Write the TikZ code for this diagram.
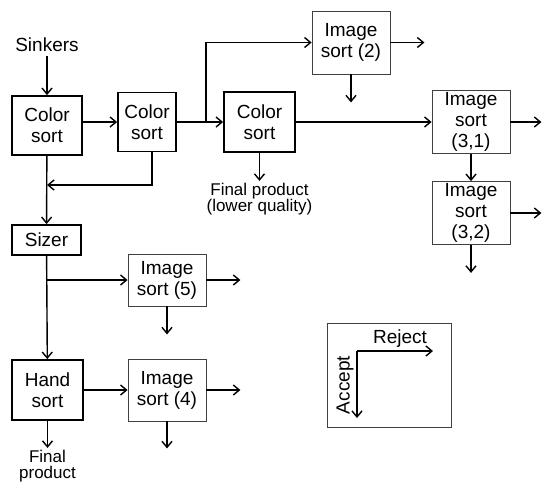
\documentclass[tikz,border=0pt]{standalone}
\usepackage{fontspec}
\setmainfont{Liberation Sans}
\usetikzlibrary{positioning,arrows.meta}
\tikzset{
  sortbox/.style={draw,line width=1.8pt,align=center,inner sep=0pt},
  imgbox/.style={draw=black!75,line width=0.8pt,align=center,inner sep=0pt,
    minimum width=78pt,minimum height=63pt},
  flow/.style={-{Straight Barb[length=6pt,width=10pt]},line width=1.4pt},
  small/.style={font=\fontsize{17}{16.5}\selectfont,align=center,inner sep=1pt}
}
\begin{document}
\begin{tikzpicture}[x=1pt,y=-1pt,font=\fontsize{19}{21}\selectfont]
\useasboundingbox (0,0) rectangle (543,485);
% first row
\node (sinkers) at (47,45) {Sinkers};
\node[sortbox,minimum width=70pt,minimum height=59pt] (cs1) at (47,125.5) {Color\\sort};
\node[sortbox,minimum width=58pt,minimum height=59pt] (cs2) at (147,122) {Color\\sort};
\node[sortbox,minimum width=71pt,minimum height=60pt] (cs3) at (259.5,122) {Color\\sort};
\node[imgbox] (is2) at (351,42.5) {Image\\sort (2)};
\node[imgbox] (is31) at (471,122) {Image\\sort\\(3,1)};
\node[imgbox] (is32) at (471,213) {Image\\sort\\(3,2)};
% left column
\node[sortbox,minimum width=69pt,minimum height=30pt] (sizer) at (46.5,240) {Sizer};
\node[sortbox,minimum width=71pt,minimum height=60pt] (hs) at (47.5,390) {Hand\\sort};
\node[imgbox,minimum height=52pt] (is5) at (167,280) {Image\\sort (5)};
\node[imgbox,minimum height=62pt] (is4) at (167,390) {Image\\sort (4)};
% free ends
\coordinate[right=34pt of is2] (is2rej);
\coordinate[below=28pt of is2] (is2acc);
\coordinate[right=31pt of is31] (is31rej);
\coordinate[right=31pt of is32] (is32rej);
\coordinate[below=28pt of is32] (is32acc);
\coordinate[below=28pt of cs3] (cs3acc);
\coordinate[right=34pt of is5] (is5rej);
\coordinate[below=28pt of is5] (is5acc);
\coordinate[right=34pt of is4] (is4rej);
\coordinate[below=27pt of is4] (is4acc);
\coordinate[below=27pt of hs] (hsacc);
\coordinate (split2) at (206,122);
\coordinate (merge) at (47,185);
\coordinate (split5) at (47,280);
% connectors
\draw[flow] (sinkers) -- (cs1);
\draw[flow] (cs2.west -| cs1.east) -- (cs2.west);
\draw[flow] (cs2) -- (cs3);
\draw[flow] (split2) |- (is2);
\draw[flow] (is2) -- (is2rej);
\draw[flow] (is2) -- (is2acc);
\draw[flow] (cs3) -- (is31);
\draw[flow] (is31) -- (is31rej);
\draw[flow] (is31) -- (is32);
\draw[flow] (is32) -- (is32rej);
\draw[flow] (is32) -- (is32acc);
\draw[flow] (cs3) -- (cs3acc);
\draw[flow] ([xshift=5pt]cs2.south) |- (merge);
\draw[flow] (cs1) -- (sizer);
\draw[flow] (sizer) -- (hs);
\draw[flow] (split5) -- (is5);
\draw[flow] (is5) -- (is5rej);
\draw[flow] (is5) -- (is5acc);
\draw[flow] (hs) -- (is4);
\draw[flow] (is4) -- (is4rej);
\draw[flow] (is4) -- (is4acc);
\draw[flow] (hs) -- (hsacc);
\node[small,below=1pt of cs3acc] (fpl) {Final product\\(lower quality)};
\node[small,below=1pt of hsacc] (fp) {Final\\product};
% legend
\node[imgbox,minimum width=124pt,minimum height=104pt] (legend) at (389,375) {};
\coordinate (corner) at (357,351);
\coordinate (rej) at (433,351);
\coordinate (acc) at (357,418);
\draw[flow] (corner) -- (rej);
\draw[flow] (corner) -- (acc);
\node[above=0pt of rej,xshift=-33pt] (rejlab) {Reject};
\node[rotate=90] (acclab) at (345,385) {Accept};
\end{tikzpicture}
\end{document}
